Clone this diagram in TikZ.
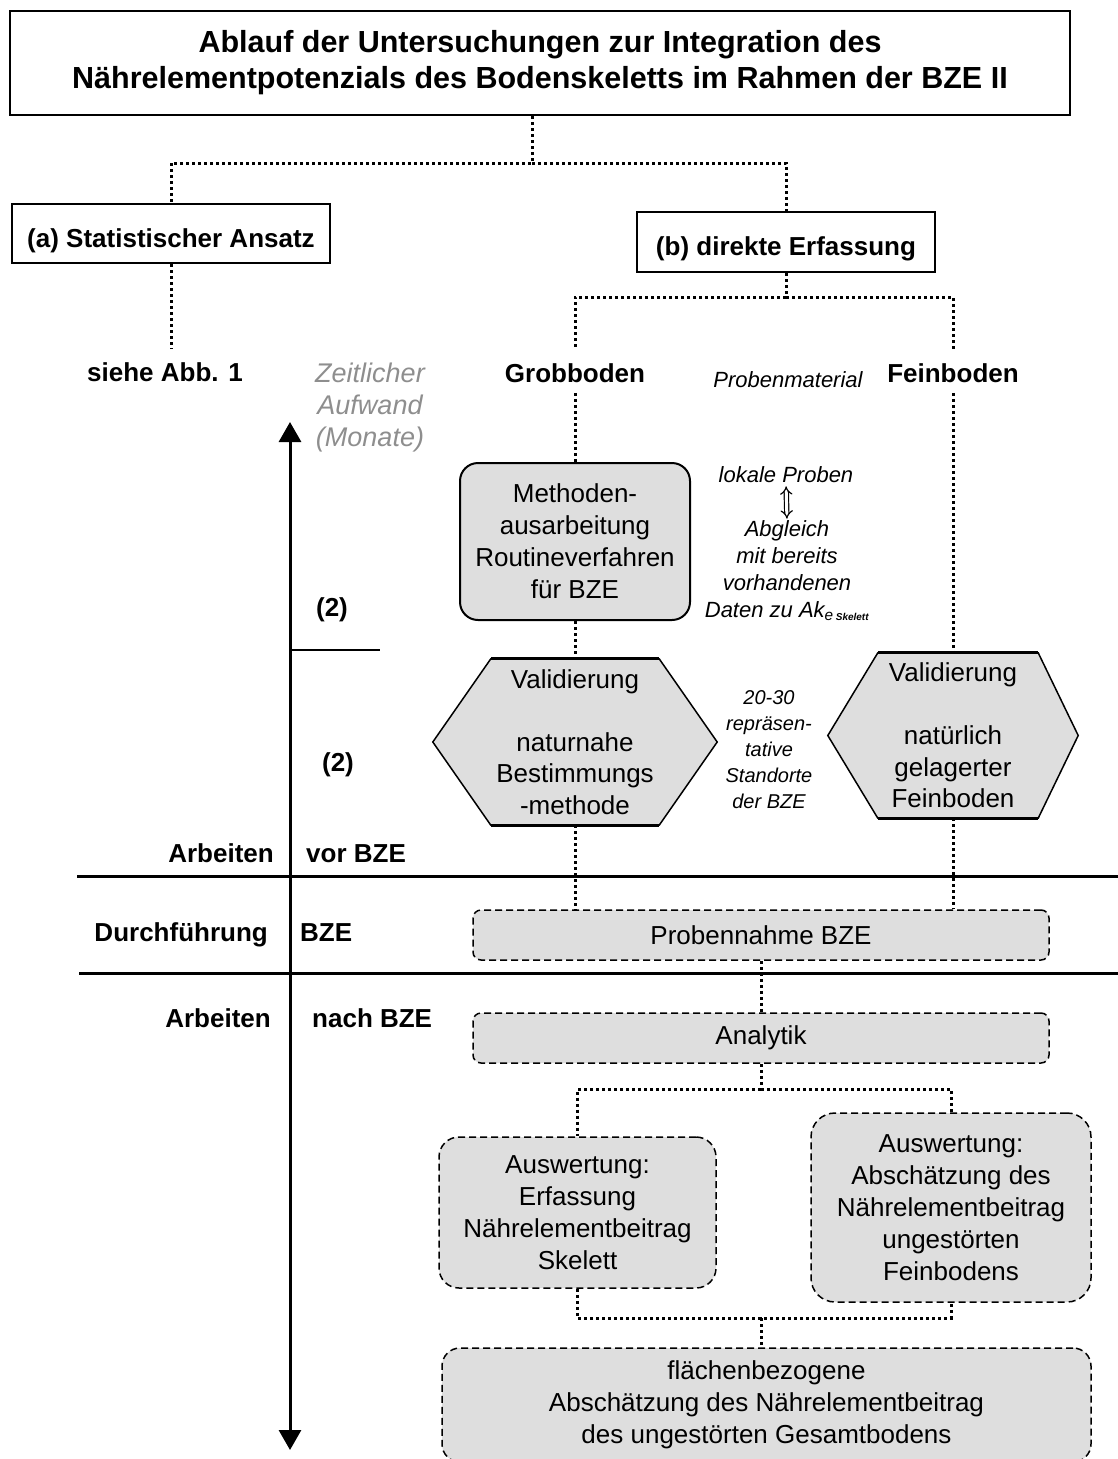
\documentclass[tikz,border=0pt]{standalone}
\usepackage{fontspec}
\setmainfont{Liberation Sans}
\usetikzlibrary{arrows.meta, backgrounds, calc}
\definecolor{boxgray}{HTML}{DEDEDE}
\definecolor{zeitgray}{HTML}{8E8E8E}
\tikzset{
	titlenode/.style={
			draw=black,
			line width=2.5pt,
			minimum width=1060pt,
			minimum height=104pt,
			align=center,
			font=\fontsize{30.5}{36}\selectfont\bfseries
		},
	headnode/.style={
			draw=black,
			line width=2pt,
			inner sep=0pt,
			text height=27pt,
			text depth=0pt,
			font=\fontsize{26}{31}\selectfont\bfseries
		},
	labelnode/.style={
			inner sep=0pt,
			font=\fontsize{26}{31}\selectfont\bfseries
		},
	solidbox/.style={
			draw=black,
			line width=2pt,
			fill=boxgray,
			rounded corners=18pt,
			inner sep=0pt,
			align=center,
			font=\fontsize{26}{32}\selectfont
		},
	dashbox/.style={
			solidbox,
			line width=1.5pt,
			dash pattern=on 7pt off 4pt
		},
	hextext/.style={
			inner sep=0pt,
			align=center,
			font=\fontsize{26}{31.5}\selectfont
		},
	hexline/.style={
			draw=black,
			line width=1.5pt,
			fill=boxgray
		},
	notenode/.style={
			inner sep=0pt,
			align=center,
			font=\fontsize{22}{27}\selectfont\itshape
		},
	conn/.style={line width=3pt, dash pattern=on 3pt off 3pt},
	sepline/.style={line width=3pt},
	zeitarrow/.style={line width=3pt, {Triangle[width=22pt,length=20pt]}-{Triangle[width=22pt,length=20pt]}},
	vergleich/.style={double, double distance=3pt, line width=1.2pt, {Implies}-{Implies}}
}

\begin{document}
\begin{tikzpicture}[x=1pt, y=-1pt]
\useasboundingbox (0,0) rectangle (1118,1459);

% Kopf und Ansaetze
\node[titlenode] (title) at (540,63) {Ablauf der Untersuchungen zur Integration des\\Nährelementpotenzials des Bodenskeletts im Rahmen der BZE II};
\node[headnode, minimum width=318pt, minimum height=59pt] (stat) at (171,233.5) {(a) Statistischer Ansatz};
\node[headnode, minimum width=298pt, minimum height=60pt] (direkt) at (786,242) {(b) direkte Erfassung};
\coordinate (split1) at (532,163);
\coordinate (split2) at (786,297);

\node[labelnode] (siehe) at (165,372) {siehe Abb. 1};
\node[labelnode] (grob) at (575,373) {Grobboden};
\node[labelnode] (fein) at (953,373) {Feinboden};
\node[notenode] (material) at (788,380) {Probenmaterial};
\node[notenode, text=zeitgray, font=\fontsize{27}{32}\selectfont\itshape] (zeit) at (370,408) {Zeitlicher\\Aufwand\\(Monate)};

% Methoden und Validierung
\node[solidbox, minimum width=230pt, minimum height=157pt] (methoden) at (575,541.5) {Methoden-\\ausarbeitung\\Routineverfahren\\für BZE};
\node[notenode] (lokal) at (786,475) {lokale Proben};
\node[notenode] (abgleich) at (787,571) {Abgleich\\mit bereits\\vorhandenen\\Daten zu Ak\textsubscript{e\,{\fontsize{10}{10}\selectfont\bfseries Skelett}}};
\draw[vergleich, shorten <=3pt, shorten >=2pt] (lokal.south) -- (abgleich.north);

\node[hextext, minimum width=284pt, minimum height=166pt] (valgrob) at (575,742) {Validierung\\[31.5pt]naturnahe\\Bestimmungs\\-methode};
\node[hextext, minimum width=250pt, minimum height=165pt] (valfein) at (953,735.5) {Validierung\\[31.5pt]natürlich\\gelagerter\\Feinboden};
\node[notenode, font=\fontsize{20}{26}\selectfont\itshape] (standorte) at (769,750) {20-30\\repräsen-\\tative\\Standorte\\der BZE};

\begin{scope}[on background layer]
\draw[hexline] (valgrob.west) -- ([xshift=58pt]valgrob.north west) -- ([xshift=-58pt]valgrob.north east) -- (valgrob.east) -- ([xshift=-58pt]valgrob.south east) -- ([xshift=58pt]valgrob.south west) -- cycle;
\draw[hexline] (valfein.west) -- ([xshift=50pt]valfein.north west) -- ([xshift=-40pt]valfein.north east) -- (valfein.east) -- ([xshift=-40pt]valfein.south east) -- ([xshift=50pt]valfein.south west) -- cycle;
\draw[line width=3pt] ([xshift=58pt]valgrob.north west) -- ([xshift=-58pt]valgrob.north east);
\draw[line width=3pt] ([xshift=58pt]valgrob.south west) -- ([xshift=-58pt]valgrob.south east);
\draw[line width=3pt] ([xshift=50pt]valfein.north west) -- ([xshift=-40pt]valfein.north east);
\draw[line width=3pt] ([xshift=50pt]valfein.south west) -- ([xshift=-40pt]valfein.south east);
\end{scope}

% Zeitachse
\node[labelnode] (zwei1) at (332,610) {(2)};
\node[labelnode] (zwei2) at (338,765) {(2)};
\coordinate (zeitoben) at (290,422);
\coordinate (zeitunten) at (290,1450);
\draw[zeitarrow] (zeitunten) -- (zeitoben);
\draw[line width=2.5pt] (290,650) -- (380,650);

\node[labelnode, anchor=base east] (arbvor) at (274,862) {Arbeiten};
\node[labelnode, anchor=base west] (vor) at (306,862) {vor BZE};
\node[labelnode, anchor=base east] (durch) at (268,941) {Durchführung};
\node[labelnode, anchor=base west] (bze) at (300,941) {BZE};
\node[labelnode, anchor=base east] (arbnach) at (271,1027) {Arbeiten};
\node[labelnode, anchor=base west] (nach) at (312,1027) {nach BZE};
\draw[sepline] (77,876) -- (1118,876);
\draw[sepline] (79,973) -- (1118,973);

% BZE und Auswertung
\node[dashbox, rounded corners=8pt, minimum width=576pt, minimum height=50pt] (probe) at (761,935) {Probennahme BZE};
\node[dashbox, rounded corners=8pt, minimum width=576pt, minimum height=50pt] (analytik) at (761,1038) {Analytik};
\node[dashbox, rounded corners=20pt, minimum width=277pt, minimum height=151pt] (ausskel) at (577.5,1212.5) {Auswertung:\\Erfassung\\Nährelementbeitrag\\Skelett};
\node[dashbox, rounded corners=24pt, minimum width=280pt, minimum height=189pt] (ausfein) at (951,1207.5) {Auswertung:\\Abschätzung des\\Nährelementbeitrag\\ungestörten\\Feinbodens};
\node[dashbox, minimum width=649pt, minimum height=114pt] (gesamt) at (766.5,1405) {flächenbezogene\\Abschätzung des Nährelementbeitrag\\des ungestörten Gesamtbodens};
\coordinate (split3) at (761,1089);
\coordinate (join) at (761,1318);

% Verbindungen
\draw[conn] (title.south -| split1) -- (split1) -| (stat.north);
\draw[conn] (split1) -| (direkt.north);
\draw[conn, shorten >=14pt] (stat.south) -- (stat.south |- siehe.north);
\draw[conn] (direkt.south) -- (split2);
\draw[conn, shorten >=14pt] (split2) -| (grob.north);
\draw[conn, shorten >=14pt] (split2) -| (fein.north);
\draw[conn, shorten <=10pt] (grob.south) -- (methoden.north);
\draw[conn] (methoden.south) -- (valgrob.north);
\draw[conn] (valgrob.south) -- (valgrob.south |- probe.north);
\draw[conn, shorten <=10pt] (fein.south) -- (valfein.north);
\draw[conn] (valfein.south) -- (valfein.south |- probe.north);
\draw[conn] (probe.south) -- (analytik.north);
\draw[conn] (analytik.south) -- (split3);
\draw[conn] (split3) -| (ausskel.north);
\draw[conn] (split3) -| (ausfein.north);
\draw[conn] (ausskel.south) |- (join) -| (ausfein.south);
\draw[conn] (join) -- (join |- gesamt.north);
\end{tikzpicture}
\end{document}
